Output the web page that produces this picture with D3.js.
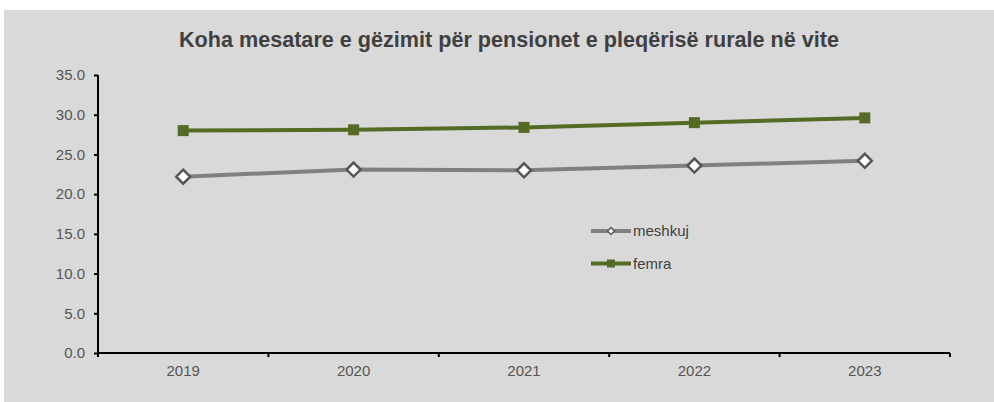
<!DOCTYPE html>
<html>
<head>
<meta charset="utf-8">
<script src="https://cdn.jsdelivr.net/npm/d3@7"></script>
<style>
  body { margin: 0; background: #fff; }
  svg { display: block; font-family: "Liberation Sans", Arial, sans-serif; }
  .tick text { fill: #555; font-size: 15px; }
</style>
</head>
<body>
<div id="chart"></div>
<script>
var years = ['2019', '2020', '2021', '2022', '2023'];
var meshkuj = [22.2, 23.1, 23.0, 23.6, 24.2];
var femra = [28.0, 28.1, 28.4, 29.0, 29.6];
var yTicks = [0, 5, 10, 15, 20, 25, 30, 35];

var width = 994;
var height = 402;
var plotLeft = 98, plotRight = 950, plotTop = 75, plotBottom = 353;

var svg = d3.select('#chart').append('svg')
    .attr('width', width)
    .attr('height', height);

svg.append('rect')
    .attr('x', 4).attr('y', 10)
    .attr('width', width - 4).attr('height', height - 10)
    .attr('fill', '#d9d9d9');

svg.append('text')
    .text('Koha mesatare e gëzimit për pensionet e pleqërisë rurale në vite')
    .attr('x', 509).attr('y', 47)
    .attr('text-anchor', 'middle')
    .attr('font-size', 21.6)
    .attr('font-weight', 'bold')
    .attr('fill', '#404040');

var xScale = d3.scaleBand().domain(years).range([plotLeft, plotRight]);
var yScale = d3.scaleLinear().domain([0, 35]).range([plotBottom, plotTop]);

var xAxis = d3.axisBottom(xScale).tickSize(0).tickPadding(12);
var gx = svg.append('g')
    .attr('transform', `translate(0,${plotBottom})`)
    .call(xAxis);
gx.select('.domain').remove();

// boundary ticks between categories
var bounds = years.map(d => xScale(d)).concat([plotRight]);
svg.append('g').selectAll('line').data(bounds).enter()
    .append('line')
    .attr('x1', d => d).attr('x2', d => d)
    .attr('y1', plotBottom).attr('y2', plotBottom + 4)
    .attr('stroke', '#000').attr('stroke-width', 2);

svg.append('line')
    .attr('x1', plotLeft).attr('x2', plotRight)
    .attr('y1', plotBottom).attr('y2', plotBottom)
    .attr('stroke', '#000').attr('stroke-width', 2);

var yAxis = d3.axisLeft(yScale).tickValues(yTicks).tickFormat(d3.format('.1f'))
    .tickSize(4).tickPadding(9);
var gy = svg.append('g')
    .attr('transform', `translate(${plotLeft},0)`)
    .call(yAxis);
gy.select('.domain').attr('stroke', '#000').attr('stroke-width', 2).attr('d', `M0,${plotTop}V${plotBottom}`);
gy.selectAll('.tick line').attr('stroke', '#000').attr('stroke-width', 2);

var cx = (d, i) => xScale(years[i]) + xScale.bandwidth() / 2;

var line = d3.line()
    .x(cx)
    .y(d => yScale(d));

svg.append('path').datum(meshkuj)
    .attr('d', line)
    .attr('fill', 'none')
    .attr('stroke', '#808080')
    .attr('stroke-width', 4);

svg.append('path').datum(femra)
    .attr('d', line)
    .attr('fill', 'none')
    .attr('stroke', '#556b25')
    .attr('stroke-width', 4);

svg.append('g').selectAll('path').data(meshkuj).enter()
    .append('path')
    .attr('d', 'M0,-7L7,0L0,7L-7,0Z')
    .attr('transform', (d, i) => `translate(${cx(d, i)},${yScale(d)})`)
    .attr('fill', '#fff')
    .attr('stroke', '#555')
    .attr('stroke-width', 2.5);

svg.append('g').selectAll('rect').data(femra).enter()
    .append('rect')
    .attr('x', (d, i) => cx(d, i) - 5.5)
    .attr('y', d => yScale(d) - 5.5)
    .attr('width', 11).attr('height', 11)
    .attr('fill', '#556b25');

// legend
var legend = svg.append('g');
legend.append('line')
    .attr('x1', 591).attr('x2', 631).attr('y1', 231).attr('y2', 231)
    .attr('stroke', '#808080').attr('stroke-width', 4);
legend.append('path')
    .attr('d', 'M0,-3.5L3.5,0L0,3.5L-3.5,0Z')
    .attr('transform', 'translate(611,231)')
    .attr('fill', '#fff').attr('stroke', '#555').attr('stroke-width', 1.5);
legend.append('text').text('meshkuj')
    .attr('x', 633).attr('y', 236)
    .attr('font-size', 15).attr('fill', '#404040');

legend.append('line')
    .attr('x1', 591).attr('x2', 631).attr('y1', 263.5).attr('y2', 263.5)
    .attr('stroke', '#556b25').attr('stroke-width', 4);
legend.append('rect')
    .attr('x', 607).attr('y', 259.5).attr('width', 8).attr('height', 8)
    .attr('fill', '#556b25');
legend.append('text').text('femra')
    .attr('x', 633).attr('y', 269)
    .attr('font-size', 15).attr('fill', '#404040');
</script>
</body>
</html>
